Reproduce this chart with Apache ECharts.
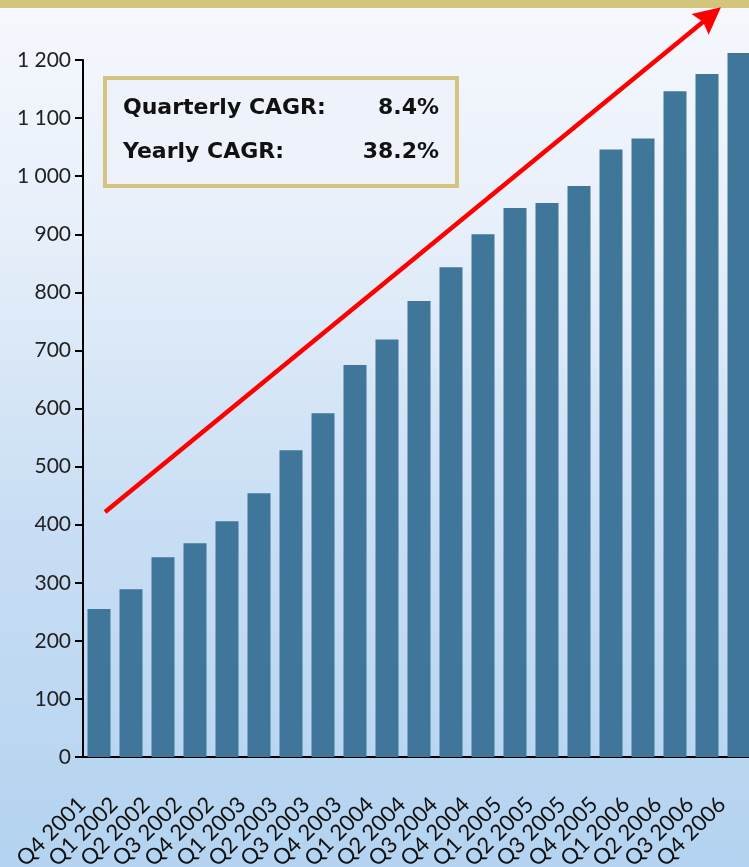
<!DOCTYPE html>
<html>
<head>
<meta charset="utf-8">
<script src="https://cdn.jsdelivr.net/npm/echarts@6/dist/echarts.min.js"></script>
<style>
  html, body { margin: 0; padding: 0; }
  #main { width: 749px; height: 867px; }
</style>
</head>
<body>
<div id="main"></div>
<script>
// quarters on the x axis
const quarters = [
    'Q4 2001', 'Q1 2002', 'Q2 2002', 'Q3 2002', 'Q4 2002', 'Q1 2003', 'Q2 2003',
    'Q3 2003', 'Q4 2003', 'Q1 2004', 'Q2 2004', 'Q3 2004', 'Q4 2004', 'Q1 2005',
    'Q2 2005', 'Q3 2005', 'Q4 2005', 'Q1 2006', 'Q2 2006', 'Q3 2006', 'Q4 2006'
];
// bar heights
const values = [
    255, 289, 344, 368, 406, 454, 528, 592, 675, 719, 785,
    843, 900, 945, 954, 983, 1046, 1065, 1146, 1176, 1212
];
// CAGR box rows
const cagrLabels = ['Quarterly CAGR:', 'Yearly CAGR:'];
const cagrValues = ['8.4%', '38.2%'];
// trend arrow, [x position in categories, value]
const trendStart = [0.19, 422];
const trendEnd = [19.11, 1276];

const chart = echarts.init(document.getElementById('main'));
const axisFont = 'Lato';

const boxText = [];
cagrLabels.forEach(function (t, i) {
    boxText.push({
        type: 'text', left: 123, top: 97 + i * 44,
        style: { text: t, font: 'bold 22px "DejaVu Sans"', fill: '#111' }
    });
    boxText.push({
        type: 'text', right: 749 - 439, top: 97 + i * 44,
        style: { text: cagrValues[i], font: 'bold 22px "DejaVu Sans"', fill: '#111', align: 'right' }
    });
});

chart.setOption({
    backgroundColor: {
        type: 'linear', x: 0, y: 0, x2: 0, y2: 1,
        colorStops: [
            { offset: 0, color: '#f6f8fd' },
            { offset: 0.25, color: '#e8f0fa' },
            { offset: 0.6, color: '#c9def4' },
            { offset: 1, color: '#b3d3f0' }
        ]
    },
    graphic: [
        { type: 'rect', shape: { x: 0, y: 0, width: 749, height: 8 }, style: { fill: '#d3c57c' } },
        {
            type: 'rect', shape: { x: 105, y: 78, width: 352, height: 108 },
            style: { fill: '#eef3fb', stroke: '#d4c481', lineWidth: 4 }
        }
    ].concat(boxText),
    grid: { left: 83, right: -6, top: 60, bottom: 110, containLabel: false, outerBoundsMode: 'none' },
    xAxis: [{
        type: 'category',
        data: quarters,
        axisLine: { lineStyle: { color: '#000', width: 2 } },
        axisTick: { length: 8, lineStyle: { color: '#000', width: 2 } },
        axisLabel: {
            interval: 0, rotate: 45, margin: 27, padding: [0, 24, 0, 0],
            fontFamily: axisFont, fontSize: 22, color: '#111'
        }
    }, {
        type: 'value', min: -0.5, max: 20.5, show: false
    }],
    yAxis: {
        type: 'value', min: 0, max: 1200, interval: 100,
        splitLine: { show: false },
        axisLine: { show: true, onZero: false, lineStyle: { color: '#000', width: 2 } },
        axisTick: { show: true, length: 8, lineStyle: { color: '#000', width: 2 } },
        axisLabel: {
            margin: 12, fontFamily: axisFont, fontSize: 21, color: '#222',
            formatter: function (v) { return String(v).replace(/\B(?=(\d{3})+(?!\d))/g, ' '); }
        }
    },
    series: [{
        type: 'bar',
        data: values,
        barWidth: 23,
        clip: false,
        itemStyle: { color: '#407699' },
        silent: true
    }, {
        type: 'lines',
        coordinateSystem: 'cartesian2d',
        xAxisIndex: 1,
        clip: false,
        silent: true,
        symbol: ['none', 'path://M12.5,0 L25,27 L12.5,23 L0,27 Z'],
        symbolSize: 27,
        lineStyle: { color: '#ff0000', width: 4.5, opacity: 1 },
        data: [{ coords: [trendStart, trendEnd] }]
    }],
    animation: false
});
</script>
</body>
</html>
